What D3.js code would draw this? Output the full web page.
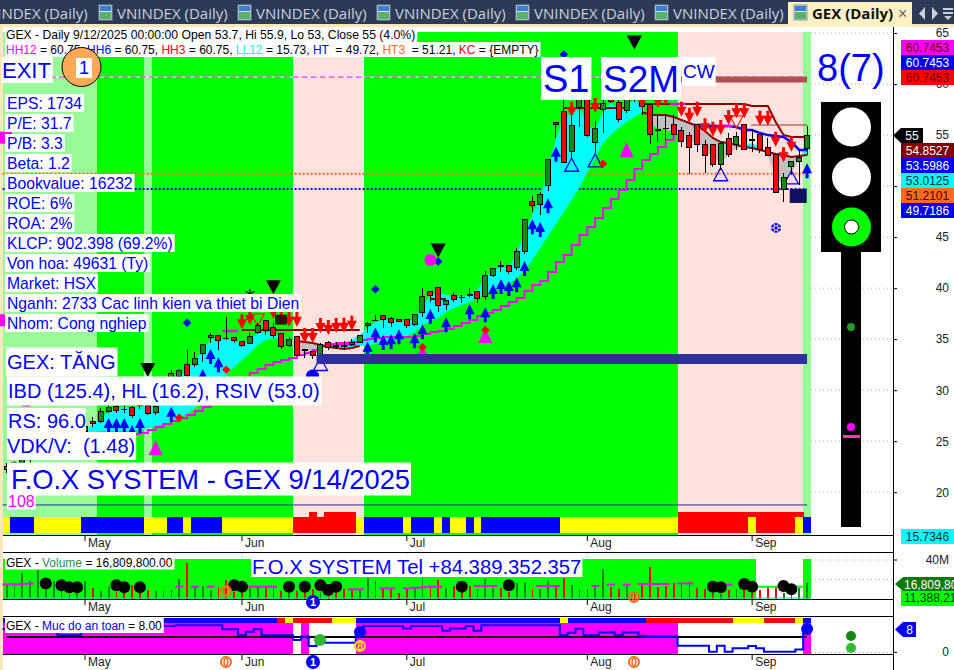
<!DOCTYPE html>
<html><head><meta charset="utf-8">
<script src="https://cdn.jsdelivr.net/npm/d3@7/dist/d3.min.js"></script>
<style>html,body{margin:0;padding:0;background:#fff;overflow:hidden}svg{display:block;font-family:"Liberation Sans",Arial,sans-serif}</style>
</head><body><svg id="c" width="954" height="670"></svg>
<script>
// ---------- DATA ----------
const monthIdx=[10,30,51,74,95];
const monthLabels=["May","Jun","Jul","Aug","Sep"];
const opens=[22.2,22.5,22.9,23.2,23.5,23.9,24.2,24.6,24.9,25.3,25.93,26.95,26.91,27.89,28.38,28.15,28.32,28.6,28.48,27.8,29.5,30.6,31.32,32.47,32.47,33.55,35.19,35.38,35.1,35.18,34.75,34.56,35.67,36.81,36.13,35.58,34.36,35.24,33.95,33.77,33.28,34.66,34.35,34.35,34.72,34.66,36.32,36.85,37.27,36.98,36.95,36.95,36.42,37.6,39.69,40.08,38.38,39.3,39.1,39.33,39.69,39.16,41.22,42.2,42.24,41.98,43.57,48.51,48.22,50.08,56.22,57.33,53.37,57.72,58.76,54.26,57.53,58.73,58.21,57.39,59,58.51,58.02,55.5,55.67,56.06,55.47,54.94,56.06,54.1,54.1,52.14,54.69,54.1,55.99,54.55,55.08,53.8,53.12,49.69,51.94,52.43,53.7];
const highs=[22.9,23.1,23.5,23.8,24.2,24.5,24.8,25.2,25.6,26,26.6,27.37,28.26,28.6,28.6,28.5,28.4,29,28.7,28.7,31,32,32.1,34.04,33.74,34.5,35.6,35.38,37.15,35.2,34.8,35.6,36.58,36.81,36.58,35.58,35.24,35.24,34,33.8,34.6,34.85,34.7,34.85,35,35.41,36.65,37.37,37.27,37.17,37,36.95,37.44,39.99,39.69,40.08,38.84,39.59,39.33,39.99,39.69,41.65,41.95,42.66,42.24,43.91,46.75,49.03,49.45,52.63,56.22,58.44,57.17,59.42,59.62,56.41,58.44,59.22,58.44,59.13,59.3,58.6,58.1,56.97,56.97,56.97,55.79,55.3,56.06,54.52,54.1,54.32,55.18,55.3,55.99,55.5,55.08,54.72,53.12,51.29,52.46,53.54,55.9];
const lows=[21.9,22.2,22.6,22.9,23.2,23.6,23.9,24.3,24.6,25,25.7,26.4,26.8,27.8,27.8,27.8,27.3,28.2,27.6,27.6,29.2,30.4,31,31.2,32.3,32.8,34.63,33.94,34.92,34.63,34.2,34.56,35.55,35.41,35.12,34,34.2,33.3,33.16,33.1,33.2,33.94,34.04,33.94,34.36,34.6,35.57,36.78,36.13,36.22,36.65,36.13,36.32,37.2,38.67,37.69,37.86,38.61,38.57,39.16,38.52,38.84,41.06,41.61,41.42,41.78,43.35,47.46,47.17,49.55,54.72,52.24,52.76,55.82,54.8,53.2,55.2,58.15,56.28,57.14,58.2,56.97,54.13,54.35,54.5,55.08,53.83,51.16,53.37,51.25,51.9,51.58,52.88,53.54,53.54,53.37,53.2,52.98,49.3,48.47,51.09,50.11,53];
const closes=[22.5,22.9,23.2,23.5,23.9,24.2,24.6,24.9,25.3,25.7,26.42,26.76,27.89,28.32,27.99,28.1,27.5,28.55,27.74,28.38,30.5,31.6,31.91,31.42,33.13,34.5,35.38,34.89,35.07,34.85,34.36,35.24,36.32,35.87,35.38,34.26,34.99,33.38,33.9,33.35,34.43,34.17,34.3,34.32,34.43,35.31,36.56,36.83,36.88,36.62,36.71,36.32,37.44,39.2,39.23,38.28,38.77,38.91,39.07,39.3,39.01,41.26,41.95,42.17,41.61,43.61,46.75,48.12,49.2,52.63,56.06,52.3,55.96,58.44,54.94,55.67,58.12,58.27,56.55,58.93,58.6,57.78,55.08,55.48,55.65,55.08,54.35,53.83,54.1,52.98,52.14,54.2,53.12,54.91,53.61,54.5,53.61,52.98,49.39,50.86,52.46,52.82,55];
const volumes=[14,16,27,18,30,9,18,12,5,9,18,11,8.5,12,7.5,11,14,10,9,8.5,8.5,9,21,36.5,13,13,9,12,20,7.5,6,11,13,12,12,8.5,9,8.5,7.5,10,7.5,4,7.5,10,10,10,22,18,11,10,6,11,11,22,13,19.5,11,13,9,13,10,21,11,11,7.5,16,16,10,10,18,14,22,14,10,10,14,31,12,10,13,7.5,14,33,12,13,16,16,18,11,10,6,5,9,10,10,6,9,12,13,6,4,11,16.8];
const fastLine=[null,null,null,null,null,null,null,null,null,null,26.1,26.59,27.28,27.86,28.26,28.35,28.35,28.35,28.45,28.55,29.24,30.02,31.29,31.98,32.96,33.94,34.92,35.02,35.02,34.92,34.53,34.92,35.61,35.7,35.61,35.21,34.92,33.74,33.45,33.45,33.94,34.43,34.53,34.63,34.92,35.41,36.1,36.68,36.88,36.88,36.78,36.68,37.08,38.35,39.13,39.53,39.33,39.23,39.13,39.33,39.82,41,41.78,42.07,42.07,43.25,45.5,47.17,48.84,51.58,54.52,56.97,56.97,57.66,55.99,55.5,57.26,58.15,57.46,57.95,58.44,57.95,55.99,55.7,55.5,55.3,54.91,54.32,54.32,53.54,52.76,52.36,53.05,53.74,53.93,54.23,53.74,53.05,50.8,50.11,51.38,52.56,54.03];
const slowLine=[null,null,null,null,null,null,null,null,null,null,25.9,25.9,26,26,26,26,26,26.1,26.3,26.49,26.69,26.98,27.28,27.67,28.26,28.84,29.63,30.51,31.49,32.27,32.96,33.65,34.43,34.92,35.12,35.12,35.02,34.82,34.72,34.63,34.43,34.23,34.14,34.04,34.14,34.33,34.43,34.53,34.72,34.82,35.02,35.31,35.7,36.29,36.78,37.08,37.66,38.06,38.35,38.64,39.04,39.43,39.82,40.21,40.41,41,41.68,42.76,43.94,45.11,46.29,47.46,48.64,49.82,51.38,52.76,54.23,55.01,55.7,56.28,56.77,57.26,56.97,56.97,56.97,56.77,56.48,56.19,55.89,55.4,54.72,54.32,54.23,54.03,53.83,53.74,53.54,53.34,53.14,53.05,52.85,52.95,53.05];
const magentaIdx=[16,17,18,19,20,21,22,23,24,25,26,27,28,29,30,31,32,33,34,35,36,37,38,39,40,41,42,43,44,45,46,47,48,49,50,51,52,53,54,55,56,57,58,59,60,61,62,63,64,65,66,67,68,69,70,71,72,73,74,75,76,77,78,79,80,81,82,83,84,85];
const magentaLine=[25.71,25.81,26.1,26.39,26.69,26.98,27.28,27.57,27.96,28.35,28.75,29.14,29.73,30.41,31.2,31.69,32.08,32.47,32.76,32.96,33.16,33.45,33.65,33.94,34.33,34.53,34.63,34.63,34.72,34.92,35.02,35.12,35.21,35.21,35.21,35.21,35.31,35.51,35.7,35.8,36,36.29,36.59,36.88,37.27,37.57,37.86,38.25,38.64,39.04,39.72,40.31,40.7,41.58,42.56,43.25,44.23,45.21,45.99,46.88,47.86,48.74,49.62,50.6,51.68,52.56,53.15,53.83,54.52,55.2];
const magentaTopIdx=[28,29,41,42,43,44,85,86,88,89,91,92];
const magentaTop=[35.8,35.8,34.45,34.45,34.45,34.45,58.05,58.05,55.99,55.99,55.89,55.89];
const upperIdx=[30,31,32,33,34,35,36,37,38,39,40,41,42,43,44,45,null,54,55,56,null,71,72,73,74,75,76,77,78,79,null,81,82,83,84,85,86,87,88,89,90,91,92,93,94,95,96,97,98,99,100,101,102];
const upperLine=[35.9,35.9,35.9,35.9,35.9,35.9,35.9,35.9,35.9,35.9,35.9,35.9,35.9,35.9,35.9,35.9,null,38.94,38.94,38.94,null,57.66,57.66,57.66,57.66,57.66,57.66,57.66,57.66,57.66,null,58.05,58.05,58.05,58.05,58.05,58.05,58.05,58.05,58.05,58.05,58.05,58.05,58.05,58.05,57.85,57.85,57.85,56.28,55.01,54.81,54.81,54.81];
const blueIdx=[88,89,90,91,92,93,94,95,96,97,98,99,100,101,102];
const blueLine=[55.89,55.89,55.89,55.89,55.89,55.79,55.5,55.5,55.2,55,54.91,54.81,54.32,53.54,53.54];
const bgState=[1,1,1,1,1,1,1,1,1,1,1,1,0,0,0,0,0,0,1,0,0,0,0,0,0,0,0,0,0,0,0,0,0,0,0,0,0,2,2,2,2,2,2,2,2,2,0,0,0,0,0,0,0,0,0,0,0,0,0,0,0,0,0,0,0,0,0,0,0,0,0,0,0,0,0,0,0,0,0,0,0,0,0,0,0,0,2,2,2,2,2,2,2,2,2,2,2,2,2,2,2,2,1];
const stripState=["y","b","b","b","y","y","y","y","y","y","b","b","b","b","b","b","b","b","y","y","y","b","b","y","b","b","b","b","y","y","y","y","y","y","y","y","y","r","r","r","r","r","r","r","r","y","b","b","b","b","b","y","b","b","b","y","b","y","y","b","y","b","b","b","b","b","b","b","b","b","b","y","y","y","y","y","y","y","y","y","y","y","y","y","y","y","r","r","r","r","r","r","r","r","r","y","r","r","r","r","r","y","b"];
const stripTopIdx=[39,41,42,43,44,86,87,88,89,90,91,92,93,94,95,96,97,98,99,100,101];
const safetyStrip=["b","b","b","b","b","b","b","b","b","b","b","b","b","b","b","b","b","b","b","b","b","b","b","b","b","b","b","b","b","b","b","b","b","b","b","r","y","r","r","r","r","r","y","y","y","b","b","b","b","b","b","b","b","b","b","b","b","b","b","b","b","b","b","b","b","b","b","b","b","b","b","y","b","b","b","b","b","b","b","b","b","b","r","r","r","r","r","r","r","r","r","r","r","y","y","y","y","r","r","r","r","y","b"];
const safetyMagenta=[1,1,1,1,1,1,1,1,1,1,1,1,1,1,1,1,1,1,1,1,1,1,1,1,1,1,1,1,1,1,1,1,1,1,1,1,1,0,1,0,0,0,0,0,0,1,1,1,1,1,1,1,1,1,1,1,1,1,1,1,1,1,1,1,1,1,1,1,1,1,1,1,1,1,1,1,1,1,1,1,1,1,1,1,1,1,0,0,0,0,0,0,0,0,0,0,0,0,0,0,0,0,1];
const safetyValues=[8,8,8,8,8,8,8,5.9,5.9,5.9,8,8,8,8,8,8,8,8,8,8,9,9,9.25,9.25,9.25,9.25,9.25,9.25,7.9,7.9,5.9,7.1,7.9,5.9,5.9,5.9,5.9,4.2,5.4,2.2,4.2,3.3,3.3,3.3,3.3,7.1,9,9,9,9,9,8.2,9,9,9,9,7.4,8.2,8.2,9,7.4,9.25,9.25,9.25,9.25,9.25,9.25,9.25,9.25,9.25,9.25,5.9,6.7,8.1,5.9,5.9,6.8,6.8,5.9,6.8,6.8,5.7,5.4,5.4,5.4,5.4,2.3,2.3,2.3,2.3,0.2,2.3,0.2,1.4,1.4,2.2,1.4,0.2,0.2,0.2,0.2,1,7.9];
const volAvgIdx=[0,1,2,3,22,24,26,31,32,33,34,44,45,48,49,51,52,53,54,55,60,61,62,68,69,70,75,77,79,81,82,83,84,86,87,92];
const volAvg=[15,15,15.4,15.7,12.6,12.6,12.6,12.6,12.6,12.6,12.6,10,10,11,11,11,11.5,12,12.6,12.6,13.3,13.3,13.3,13.3,13.3,13.3,13.3,14.7,14.7,15.4,15.4,15.4,15.4,16,16,14.7];
const volGreenIdx=[96,97,98,100,101];
const volGreen=[12.6,12.6,12.6,12.6,12.6];
const volDotIdx=[5,7,8,9,14,15,17,29,30,36,38,40,41,42,58,64,90,91,94,95,99,100];
const volDots=[16,14,12,12,14,12,12,14,12.6,12.6,12.6,14,9.2,12.6,12.6,14,12.6,12,15.4,12.6,13.3,9.9];
const arrowUpIdx=[13,14,15,16,17,21,25,26,27,46,47,48,49,50,52,53,54,56,59,61,62,63,64,65,66,67,68,69,70,102];
const arrowUp=[27.28,27.28,27.28,26.59,27.28,28.38,32.08,34.04,33.22,34.75,36.13,35.41,35.48,35.97,35.58,36.46,37.96,37.14,38.42,38.12,40.41,40.9,40.7,41.06,42.66,46.75,46.48,48.81,53.86,52.24];
const arrowDownIdx=[30,31,34,35,36,37,38,39,40,41,42,43,44,72,74,75,81,83,84,86,87,88,89,90,91,92,93,94,96,97,98,99,100];
const arrowDown=[35.97,36.39,37,36.39,36.22,36.22,34.63,34.63,35.61,35.41,35.61,35.63,35.83,56.77,59.91,57.17,57.66,57.66,57.95,56.8,56.2,56.8,55.18,54.84,55,55.99,56.65,56.65,55.92,55.92,53.86,52.33,53.37];
const hollowUpIdx=[40,72,75,91,100];
const hollowUp=[33.2,52.73,53.15,51.8,51.5];
const hollowDownIdx=[32,93];
const hollowDown=[36.3,55.7];
const magentaTriIdx=[19,53,61,79];
const magentaTri=[25.1,34.43,36.1,54.3];
const blackTriIdx=[18,34,55,80];
const blackTri=[31.3,39.4,43,63.4];
const redDotIdx=[22,28,53,61,76];
const redDots=[27.3,32,34.2,35.9,52.2];
const blueDotIdx=[23,47,55,71];
const blueDots=[36.6,39.9,42.6,62.9];
const refHigh=60.68, refHT3=51.21, refHT=49.72, refLow=18.75, resistLevel=60.45, supportLevel=33.05;
const priceTicks=[65,60,55,50,45,40,35,30,25,20];
const tabXs=[-23,117,256,395,534,673];
const infoRows=["EPS: 1734","P/E: 31.7","P/B: 3.3","Beta: 1.2","Bookvalue: 16232","ROE: 6%","ROA: 2%","KLCP: 902.398 (69.2%)","Von hoa: 49631 (Ty)","Market: HSX","Nganh: 2733 Cac linh kien va thiet bi Dien","Nhom: Cong nghiep"];
const headerRow=[["HH12","#ff00ff"],[" = 60.75, ","#000"],["HH6","#0000ff"],[" = 60.75, ","#000"],["HH3","#ff0000"],[" = 60.75, ","#000"],["LL12","#00ffff"],[" = 15.73, ","#000"],["HT","#0000ff"],["  = 49.72, ","#000"],["HT3","#ff6a20"],["  = 51.21, ","#000"],["KC","#ff0000"],[" = {EMPTY}","#000"]];
const tagsTop=[["60.7453","#ff00ff","#600000"],["60.7453","#0000ff","#fff"],["60.7453","#ff0000","#600000"]];
const tagsMid=[["54.8527","#800000","#fff"],["53.5986","#0000ff","#fff"],["53.0125","#00ffff","#003030"],["51.2101","#ff6a20","#400000"],["49.7186","#0000ff","#fff"]];

// ---------- SETUP ----------
const svg=d3.select("#c");
const N=closes.length, idx=d3.range(N);
const x=d3.scaleBand().domain(idx).range([2.6,811]).padding(0);
const step=x.step(), cx=i=>x(i)+step/2;
const y=d3.scaleLinear().domain([65,20]).range([33.06,492.2]);
const yVol=d3.scaleLinear().domain([0,40]).range([599,560]);
const ySafe=d3.scaleLinear().domain([0,8]).range([652.4,629]);
const BLUE="#0000ff", G="#00ff00", LG="#98fb98", ROSE="#ffe1dd";
const stripCol={y:"#ffff00",b:"#0000ff",r:"#ff0000"};
const FG="Liberation Sans";

// chrome
svg.append("rect").attr("width",954).attr("height",670).attr("fill","#fff");
svg.append("rect").attr("width",954).attr("height",24).attr("fill","#2d3a56");
svg.append("rect").attr("y",24).attr("width",954).attr("height",3).attr("fill","#f8e8bc");
svg.append("rect").attr("y",24).attr("width",3).attr("height",646).attr("fill","#f8e8bc");
const tabs=svg.append("g").attr("font-family","Open Sans").attr("font-size",15);
tabs.selectAll("text").data(tabXs).join("text").attr("x",d=>d).attr("y",19).attr("fill","#c9d0da").text("VNINDEX (Daily)");
const icon=(g,px)=>{g.append("rect").attr("x",px).attr("y",5).attr("width",13).attr("height",15).attr("fill","#cfe3f2").attr("stroke","#7f93aa");g.append("rect").attr("x",px+1).attr("y",12).attr("width",11).attr("height",7).attr("fill","#58b06a");g.append("rect").attr("x",px+1).attr("y",6).attr("width",11).attr("height",5).attr("fill","#3c7ed0")};
tabXs.slice(1).forEach(t=>icon(svg,t-18));
svg.append("rect").attr("x",788).attr("y",2).attr("width",124).attr("height",25).attr("fill","#fdf0c4");
icon(svg,794);
svg.append("text").attr("x",812).attr("y",19).attr("font-family","Open Sans").attr("font-weight",700).attr("font-size",15).attr("fill","#111").text("GEX (Daily)");
svg.append("text").attr("x",898).attr("y",19).attr("font-size",16).attr("fill","#666").text("×");
svg.append("path").attr("d","M925 7v13l-6-6.5z M932 7v13l6-6.5z").attr("fill","#c9d0da");
svg.append("path").attr("d","M943 8h10v2h-10z M943 12h10v2h-10z M944 16h8l-4 4z").attr("fill","#c9d0da");

// background cells of all panes
const bgCol=[G,LG,ROSE];
const main=svg.append("g");
main.selectAll("rect.bg").data(idx).join("rect").attr("x",i=>x(i)).attr("y",32).attr("width",step+.4).attr("height",503).attr("fill",i=>bgCol[bgState[i]]).attr("shape-rendering","crispEdges");
// strip
main.selectAll("rect.st").data(idx).join("rect").attr("x",i=>x(i)).attr("y",517).attr("width",step+.4).attr("height",16).attr("fill",i=>stripCol[stripState[i]]).attr("shape-rendering","crispEdges");
main.selectAll("rect.sttop").data(stripTopIdx).join("rect").attr("x",i=>x(i)).attr("y",512).attr("width",step+.4).attr("height",5).attr("fill","#ff0000").attr("shape-rendering","crispEdges");
// reference lines
const hline=(v,col,w,dash,i0=0,i1=N-1)=>main.append("line").attr("x1",x(i0)).attr("x2",i1===N-1?cx(i1):x(i1)+step).attr("y1",y(v)).attr("y2",y(v)).attr("stroke",col).attr("stroke-width",w).attr("stroke-dasharray",dash||null);
hline(refHigh,"#fff",1,null,6);hline(refHigh,"#ff00ff",1,"6,3",6);
hline(refHT3,"#ff6a20",2,"2,2");
hline(refHT,BLUE,2,"2,2");
hline(refLow,"#2a2a9a",1);
// cyan / gray band
for(let i=10;i<N-1;i++){
  const a=fastLine[i],b=fastLine[i+1],c=slowLine[i],d=slowLine[i+1];
  const up=(a+b)/2>=(c+d)/2;
  main.append("path").attr("d",d3.area().x(k=>cx(k)).y0(k=>y(slowLine[k])).y1(k=>y(fastLine[k]))([i,i+1])).attr("fill",up?"#00ffff":"#c0c0c0").attr("stroke",up?"#00ffff":"#c0c0c0").attr("stroke-width",.3);
}
// lines
main.append("line").attr("x1",cx(2)).attr("x2",cx(3)).attr("y1",y(28.5)).attr("y2",y(28.5)).attr("stroke","#ff00ff").attr("stroke-width",2);
main.append("path").attr("fill","none").attr("stroke","#ff00ff").attr("stroke-width",2)
  .attr("d",d3.line().curve(d3.curveStepAfter).x((d,k)=>cx(magentaIdx[k])).y(d=>y(d))(magentaLine));
main.append("path").attr("fill","none").attr("stroke","#8b0000").attr("stroke-width",2)
  .attr("d",d3.line().defined(d=>d!==null).x((d,k)=>cx(upperIdx[k])).y(d=>y(d))(upperLine));
main.append("path").attr("fill","none").attr("stroke","#8b0000").attr("stroke-width",2)
  .attr("d",d3.line().defined((d,k)=>k>=37&&k<=45||k>=81).x((d,k)=>cx(k)).y(d=>y(d))(slowLine));
main.append("path").attr("fill","none").attr("stroke",BLUE).attr("stroke-width",2.5)
  .attr("d",d3.line().x((d,k)=>cx(blueIdx[k])).y(d=>y(d))(blueLine));
main.selectAll("path.mt").data(magentaTopIdx).join("path").attr("d",(i,k)=>`M${x(i)} ${y(magentaTop[k])}h${step}`).attr("stroke","#ff00ff").attr("stroke-width",2.5);
main.append("line").attr("x1",cx(95)-1).attr("x2",cx(102)).attr("y1",y(55.99)).attr("y2",y(55.99)).attr("stroke","#a03030").attr("stroke-width",1);
hline(resistLevel,"#b05050",6,null,86,102);
// markers under candles
const triUp=(g,i,v,w,h,fill,stroke)=>g.append("path").attr("d",`M${cx(i)} ${y(v)}l${w/2} ${h}h${-w}z`).attr("fill",fill).attr("stroke",stroke||"none").attr("stroke-width",stroke?1.3:0);
const triDown=(g,i,v,w,h,fill,stroke)=>g.append("path").attr("d",`M${cx(i)} ${y(v)}l${w/2} ${-h}h${-w}z`).attr("fill",fill).attr("stroke",stroke||"none").attr("stroke-width",stroke?1.3:0);
magentaTriIdx.forEach((i,k)=>triUp(main,i,magentaTri[k],14,15,"#ff00ff"));
hollowUpIdx.forEach((i,k)=>triUp(main,i,hollowUp[k],14,13,"none",BLUE));
hollowDownIdx.forEach((i,k)=>triDown(main,i,hollowDown[k],13,12,"none","#ff2020"));
// candles
const cg=main.append("g");
cg.selectAll("line").data(idx).join("line").attr("x1",cx).attr("x2",cx).attr("y1",i=>y(highs[i])).attr("y2",i=>y(lows[i])).attr("stroke","#000").attr("stroke-width",1).attr("shape-rendering","crispEdges");
cg.selectAll("rect").data(idx).join("rect").attr("x",i=>cx(i)-2.5).attr("width",5)
  .attr("y",i=>y(Math.max(opens[i],closes[i]))).attr("height",i=>Math.max(.6,Math.abs(y(opens[i])-y(closes[i]))))
  .attr("fill",i=>closes[i]>opens[i]?"#138a13":"#ff0000").attr("stroke","#000").attr("stroke-width",1).attr("shape-rendering","crispEdges");
// arrows
const aUp=(i,v)=>main.append("path").attr("d",`M${cx(i)} ${y(v)}l5 10h-3.5v5h-3v-5h-3.5z`).attr("fill",BLUE);
const aDn=(i,v)=>main.append("path").attr("d",`M${cx(i)} ${y(v)}l5 -10h-3.5v-5h-3v5h-3.5z`).attr("fill","#ff0000");
arrowUpIdx.forEach((i,k)=>aUp(i,arrowUp[k]));
arrowDownIdx.forEach((i,k)=>aDn(i,arrowDown[k]));
blackTriIdx.forEach((i,k)=>triDown(main,i,blackTri[k],15,14,"#000"));
redDotIdx.forEach((i,k)=>main.append("path").attr("transform",`translate(${cx(i)},${y(redDots[k])})`).attr("d",d3.symbol().type(d3.symbolDiamond2).size(46)()).attr("fill","#ff0000"));
blueDotIdx.forEach((i,k)=>main.append("path").attr("transform",`translate(${cx(i)},${y(blueDots[k])})`).attr("d",d3.symbol().type(d3.symbolDiamond2).size(46)()).attr("fill",BLUE));
main.append("circle").attr("cx",cx(54)).attr("cy",y(42.75)).attr("r",6).attr("fill","#ff00ff");
const sq=(i,v,w,col)=>main.append("rect").attr("x",cx(i)-w/2).attr("y",y(v)-w/2).attr("width",w).attr("height",w).attr("fill",col);
sq(40.3,36.85,12,"#ff00ff");sq(99.8,54.75,12,"#ff00ff");
main.append("rect").attr("x",cx(101)-9.5).attr("y",y(49.72)).attr("width",17).attr("height",14).attr("fill","#101060");
main.append("rect").attr("x",275).attr("y",y(37.4)).attr("width",12).attr("height",10).attr("fill","#200000").attr("opacity",.85);
main.append("text").attr("x",250).attr("y",y(39.3)+10).attr("text-anchor","middle").attr("font-size",21).attr("font-family","DejaVu Sans").attr("fill","#000").text("*");
main.append("text").attr("x",776).attr("y",233).attr("text-anchor","middle").attr("font-size",14).attr("font-family","DejaVu Sans").attr("fill",BLUE).text("❆");
main.append("circle").attr("cx",312.5).attr("cy",376).attr("r",6.5).attr("fill",BLUE);
hline(supportLevel,"#2e2ea0",10,null,40,102);

// panes: volume
const vol=svg.append("g");
vol.selectAll("rect.a").data(idx.filter(i=>i<96||i===102)).join("rect").attr("x",i=>x(i)).attr("y",559).attr("width",step+.4).attr("height",40).attr("fill",G).attr("shape-rendering","crispEdges");
vol.selectAll("rect.b").data(idx).join("rect").attr("x",i=>cx(i)-.8).attr("y",i=>yVol(volumes[i])).attr("width",1.8).attr("height",i=>599-yVol(volumes[i])).attr("fill",i=>closes[i]>opens[i]?"#0f8a0f":"#ff0000").attr("shape-rendering","crispEdges");
vol.selectAll("path.avg").data(volAvgIdx).join("path").attr("d",(i,k)=>`M${x(i)} ${yVol(volAvg[k])}h${step}`).attr("stroke","#ff00ff").attr("stroke-width",2).attr("fill","none");
vol.selectAll("path.gr").data(volGreenIdx).join("path").attr("d",(i,k)=>`M${x(i)} ${yVol(volGreen[k])}h${step}`).attr("stroke",G).attr("stroke-width",2).attr("fill","none");
vol.append("line").attr("x1",3).attr("x2",811).attr("y1",598).attr("y2",598).attr("stroke","#00e0e0");
vol.selectAll("circle").data(volDotIdx).join("circle").attr("cx",i=>cx(i)).attr("cy",(i,k)=>yVol(volDots[k])).attr("r",6).attr("fill","#000");

// panes: safety
const safe=svg.append("g");
safe.selectAll("rect.a").data(idx).join("rect").attr("x",i=>x(i)).attr("y",623).attr("width",step+.4).attr("height",31).attr("fill",i=>safetyMagenta[i]?"#ff00ff":"#fff").attr("shape-rendering","crispEdges");
safe.selectAll("rect.b").data(idx).join("rect").attr("x",i=>x(i)).attr("y",618).attr("width",step+.4).attr("height",5).attr("fill",i=>stripCol[safetyStrip[i]]).attr("shape-rendering","crispEdges");
safe.append("line").attr("x1",7).attr("x2",807).attr("y1",ySafe(5.3)).attr("y2",ySafe(5.3)).attr("stroke","#000").attr("stroke-width",2);
safe.append("path").attr("fill","none").attr("stroke",BLUE).attr("stroke-width",2)
  .attr("d",d3.line().curve(d3.curveStepAfter).x((d,k)=>x(k)).y(d=>ySafe(d))(safetyValues));
safe.append("circle").attr("cx",cx(102)).attr("cy",629).attr("r",6).attr("fill",BLUE);
safe.append("circle").attr("cx",360).attr("cy",632).attr("r",6).attr("fill",BLUE);
safe.append("circle").attr("cx",320).attr("cy",640).attr("r",6).attr("fill","#2eb82e");
const ring=(px,py,col,txt,filled)=>{svg.append("circle").attr("cx",px).attr("cy",py).attr("r",filled?6:5).attr("fill",filled?col:"none").attr("stroke",col).attr("stroke-width",2);
  svg.append("text").attr("x",px).attr("y",py+4).attr("text-anchor","middle").attr("font-size",11).attr("font-weight",700).attr("fill",filled?"#fff":col).text(txt)};
ring(360,646,"#f0e000","8");

// x axes and pane borders
const xAxis=d3.axisBottom(x).tickValues(monthIdx).tickFormat(i=>monthLabels[monthIdx.indexOf(i)]).tickSize(5).tickPadding(0);
[535,599,654].forEach(py=>{
  const g=svg.append("g").attr("transform",`translate(0,${py+1})`).call(xAxis);
  g.select(".domain").remove();
  g.selectAll(".tick line").attr("stroke","#000");
  g.selectAll(".tick text").attr("text-anchor","start").attr("x",3).attr("y",2).attr("font-family",FG).attr("font-size",12).attr("fill","#222");
});
[535,552,599,616,654].forEach(py=>svg.append("line").attr("x1",3).attr("x2",893).attr("y1",py+.5).attr("y2",py+.5).attr("stroke","#000").attr("shape-rendering","crispEdges"));
monthIdx.slice(1).forEach(i=>svg.append("line").attr("x1",cx(i)).attr("x2",cx(i)).attr("y1",553).attr("y2",559).attr("stroke","#aaa").attr("stroke-dasharray","1,2"));
ring(226,591,"#ff6a20","0");ring(634,597,"#ff6a20","0");
ring(226,662,"#ff6a20","0");ring(634,662,"#ff6a20","0");
ring(313,602,BLUE,"1",true);ring(313,662,BLUE,"1",true);

// right axis
const rAxis=d3.axisRight(y).tickValues(priceTicks).tickFormat(d3.format("d")).tickSize(4).tickPadding(0);
priceTicks.forEach(v=>svg.append("line").attr("x1",811).attr("x2",893).attr("y1",y(v)).attr("y2",y(v)).attr("stroke","#aaa").attr("stroke-dasharray","1,3"));
[40,20].forEach(v=>svg.append("line").attr("x1",811).attr("x2",893).attr("y1",yVol(v)).attr("y2",yVol(v)).attr("stroke","#aaa").attr("stroke-dasharray","1,3"));
svg.append("line").attr("x1",811).attr("x2",893).attr("y1",652.5).attr("y2",652.5).attr("stroke","#aaa").attr("stroke-dasharray","1,3");
const ra=svg.append("g").attr("transform","translate(893,0)").call(rAxis);
ra.select(".domain").remove();
ra.selectAll(".tick line").attr("stroke","#000");
ra.selectAll(".tick text").attr("text-anchor","end").attr("x",56).attr("font-family",FG).attr("font-size",12).attr("fill","#222");
svg.append("line").attr("x1",893.5).attr("x2",893.5).attr("y1",27).attr("y2",670).attr("stroke","#000").attr("shape-rendering","crispEdges");
const rtxt=(t,py,px=949)=>svg.append("text").attr("x",px).attr("y",py+4).attr("text-anchor","end").attr("font-size",12).attr("fill","#222").text(t);
rtxt("40M",560);rtxt("0",652);
[[560],[652.4]].forEach(([py])=>svg.append("line").attr("x1",893).attr("x2",897).attr("y1",py).attr("y2",py).attr("stroke","#000"));

// traffic light
const tl=svg.append("g");
tl.append("rect").attr("x",821).attr("y",102).attr("width",60).attr("height",150).attr("fill","#000");
tl.append("rect").attr("x",841).attr("y",252).attr("width",20).attr("height",275).attr("fill","#000");
tl.append("circle").attr("cx",851.5).attr("cy",127).attr("r",19.5).attr("fill","#fff");
tl.append("circle").attr("cx",851.5).attr("cy",177).attr("r",19.5).attr("fill","#fff");
tl.append("circle").attr("cx",851.5).attr("cy",227).attr("r",19.5).attr("fill",G);
tl.append("circle").attr("cx",851.5).attr("cy",227).attr("r",7).attr("fill","#fff").attr("stroke","#000");
tl.append("circle").attr("cx",851).attr("cy",327).attr("r",4).attr("fill","#2a9a2a");
tl.append("circle").attr("cx",851).attr("cy",427).attr("r",4).attr("fill","#ff00ff");
tl.append("rect").attr("x",843).attr("y",435).attr("width",17).attr("height",3).attr("fill","#ff3ca8");
svg.append("circle").attr("cx",851).attr("cy",636).attr("r",5).attr("fill","#118811");
svg.append("circle").attr("cx",851).attr("cy",648).attr("r",5).attr("fill","#33bb33");

// tags
const tag=(t,py,bg,fg,h=15,px=901,w=53)=>{svg.append("rect").attr("x",px).attr("y",py).attr("width",w).attr("height",h).attr("fill",bg);
  svg.append("text").attr("x",px+w/2).attr("y",py+h/2+4.3).attr("text-anchor","middle").attr("font-size",12).attr("fill",fg).text(t)};
tagsTop.forEach((d,k)=>tag(d[0],40+15*k,d[1],d[2]));
tagsMid.forEach((d,k)=>tag(d[0],143+15*k,d[1],d[2]));
tag("15.7346",529,"#00ffff","#003030",15);
const arrowTag=(t,py,h,px,w,bg,fg,fs=12)=>{svg.append("path").attr("d",`M${px} ${py+h/2}l8 ${-h/2}h${w}v${h}h${-w}z`).attr("fill",bg);
  svg.append("text").attr("x",px+8+w/2).attr("y",py+h/2+4.3).attr("text-anchor","middle").attr("font-size",fs).attr("fill",fg).text(t)};
arrowTag("55",128,15,893,22,"#000","#fff");
svg.append("rect").attr("x",901).attr("y",590).attr("width",53).attr("height",16).attr("fill",G);
svg.append("text").attr("x",904).attr("y",602).attr("font-size",12).attr("fill","#003000").text("11,388,21");
arrowTag("",577,14,895,60,"#0a7a0a","#fff");
svg.append("text").attr("x",904).attr("y",588.5).attr("font-size",12).attr("fill","#fff").text("16,809,80");
arrowTag("8",622,15,895,13,BLUE,"#fff");

// text boxes
const box=(t,px,pyc,size,col,opt={})=>{
  const g=svg.append("g");
  const tx=g.append("text").attr("x",px).attr("y",pyc+size*.36).attr("font-size",size).attr("fill",col).style("white-space","pre");
  if(Array.isArray(t))t.forEach(([s,c])=>tx.append("tspan").attr("fill",c).text(s));else tx.text(t);
  const w=tx.node().getComputedTextLength();
  const pl=opt.pl??2,pr=opt.pr??2,h=opt.h??Math.round(size*1.15);
  g.insert("rect","text").attr("x",px-pl).attr("y",pyc-h/2).attr("width",w+pl+pr).attr("height",h).attr("fill","#fff");
};
box("GEX - Daily 9/12/2025 00:00:00 Open 53.7, Hi 55.9, Lo 53, Close 55 (4.0%)",6,34.5,12.2,"#000",{h:15,pl:1});
box(headerRow,6,49.5,12,"#000",{h:15,pl:1});
box("EXIT",2,70,22,BLUE,{h:26,pl:0,pr:2});
infoRows.forEach((t,k)=>box(t,7,103+20*k,15.7,BLUE,{h:18}));
svg.append("circle").attr("cx",81.5).attr("cy",67).attr("r",19.5).attr("fill","#ffa858").attr("stroke","#000");
box("1",79,68,18,BLUE,{h:20,pl:3,pr:3});
box("GEX: TĂNG",7,362,20,BLUE,{h:29,pl:1,pr:2});
box("IBD (125.4), HL (16.2), RSIV (53.0)",8,391,20,BLUE,{h:29,pl:1,pr:2});
box("RS: 96.0",8,420.5,20,BLUE,{h:25,pl:1,pr:0});
box("VDK/V:  (1.48)",7,446,20,BLUE,{h:28,pl:0,pr:1});
box("F.O.X SYSTEM - GEX 9/14/2025",11,479,27.3,BLUE,{h:33,pl:4,pr:1});
box("108",8,501,16,"#ff00ff",{h:17,pl:1,pr:1});
box("S1",543,78.5,38,BLUE,{h:43,pl:2,pr:2});
box("S2M",603,78.5,37,BLUE,{h:43,pl:2,pr:2});
box("CW",683,71.5,19,BLUE,{h:29,pl:1,pr:1});
box([["GEX - ","#000"],["Volume","#2e8b57"],[" = 16,809,800.00","#000"]],6,562.5,12,"#000",{h:14,pl:1});
box([["GEX - ","#000"],["Muc do an toan","#0000ff"],[" = 8.00","#000"]],6,625.5,12,"#000",{h:15,pl:1});
box("F.O.X SYSTEM Tel +84.389.352.357",252,566.5,20.3,BLUE,{h:21,pl:1,pr:1});
svg.append("text").attr("x",817).attr("y",81).attr("font-size",38).attr("fill",BLUE).text("8(7)");
</script></body></html>
